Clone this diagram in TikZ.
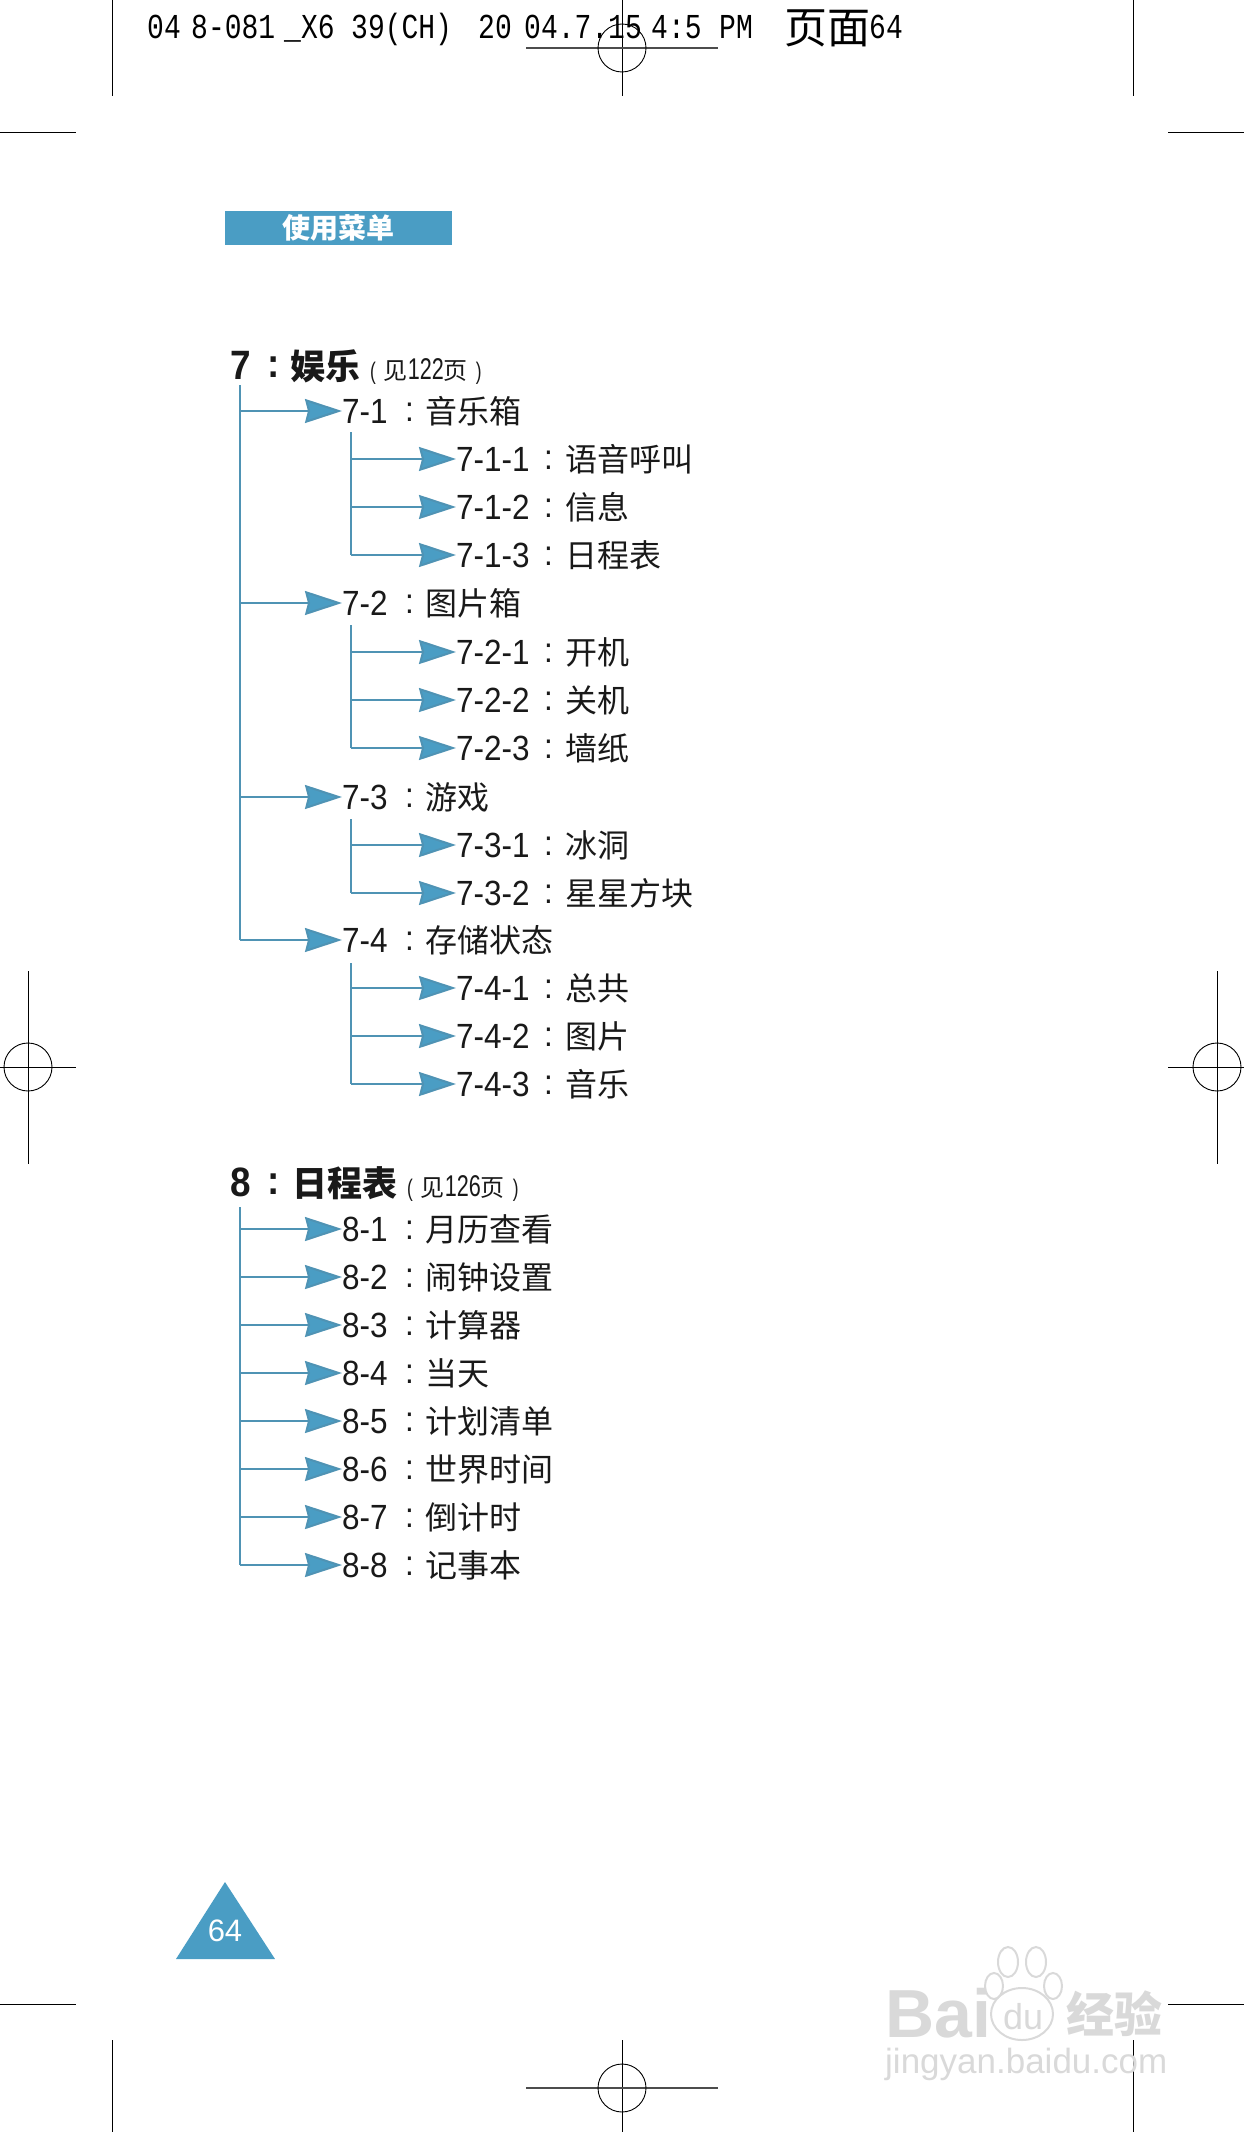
\documentclass[tikz,border=0pt]{standalone}
\usepackage{fontspec}
\usetikzlibrary{arrows.meta}
\setmainfont{Liberation Sans}
\newfontfamily\cjk{Noto Sans CJK SC}
\newfontfamily\numf[FakeStretch=0.9]{Liberation Sans}
\newfontfamily\numb[FakeStretch=0.9]{Liberation Sans Bold}
\newfontfamily\numn[FakeStretch=0.72]{Liberation Sans}
\newfontfamily\hdr[FakeStretch=0.8]{Liberation Mono}
\definecolor{mblue}{HTML}{4A9DC4}
\definecolor{lblue}{HTML}{4F93B4}
\definecolor{wm}{gray}{0.85}
\tikzset{
  x=1pt,y=-1pt,
  crop/.style={black,line width=0.9pt},
  lbl/.style={anchor=west,inner sep=0pt,outer sep=0pt,text height=25pt,text depth=0pt,text=black!90},
  heading/.style={anchor=base west,inner sep=0pt,outer sep=0pt,text=black!90},
  trunk/.style={lblue,line width=2.6pt},
  branch/.style={lblue,line width=2pt,-{Stealth[length=37pt,width=24pt,inset=3pt,fill=mblue]}},
  hdrtext/.style={anchor=base west,inner sep=0pt,font=\hdr\fontsize{35}{35}\selectfont,text=black},
  wmtext/.style={anchor=base west,inner sep=0pt,text=wm},
}
% level two / level one row text
\newcommand{\rowA}[2]{{\numf\fontsize{35}{35}\selectfont\rlap{#1}\hspace{63pt}\rlap{\raisebox{2pt}{:}}\hspace{20pt}\cjk\fontsize{32}{32}\selectfont #2}}
\newcommand{\rowB}[2]{{\numf\fontsize{35}{35}\selectfont\rlap{#1}\hspace{88pt}\rlap{\raisebox{2pt}{:}}\hspace{21pt}\cjk\fontsize{32}{32}\selectfont #2}}
\newcommand{\headA}[5]{{\numb\fontsize{41}{41}\selectfont\rlap{#1}\hspace{#3}\rlap{\raisebox{2pt}{:}}\hspace{#4}{\cjk\bfseries\fontsize{35}{35}\selectfont #2}\hspace{10pt}{\fontsize{24}{24}\selectfont\numn (\hspace{8pt}{\cjk 见}{\fontsize{30}{30}\selectfont #5}{\cjk 页}\hspace{8pt})}}}
\begin{document}
\begin{tikzpicture}
\useasboundingbox (0,0) rectangle (1244,2132);
% crop and registration marks
\draw[crop] (112,0) -- (112,96);
\draw[crop] (622,0) -- (622,96);
\draw[crop] (1133,0) -- (1133,96);
\draw[crop] (0,132) -- (76,132);
\draw[crop] (1168,132) -- (1244,132);
\draw[crop,black!70,line width=1.4pt] (526,48) -- (718,48);
\draw[crop] (622,48) circle[radius=24];
\draw[crop] (0,2004) -- (76,2004);
\draw[crop] (1168,2004) -- (1244,2004);
\draw[crop] (112,2040) -- (112,2132);
\draw[crop] (622,2040) -- (622,2132);
\draw[crop] (1133,2040) -- (1133,2132);
\draw[crop,black!70,line width=1.4pt] (526,2088) -- (718,2088);
\draw[crop] (622,2088) circle[radius=24];
\draw[crop] (28,971) -- (28,1164);
\draw[crop] (0,1067) -- (76,1067);
\draw[crop] (28,1067) circle[radius=24];
\draw[crop] (1217,971) -- (1217,1164);
\draw[crop] (1168,1067) -- (1244,1067);
\draw[crop] (1217,1067) circle[radius=24];
% printer slug
\node[hdrtext] (s1) at (147,39) {04};
\node[hdrtext] (s2) at (191,39) {8-081};
\node[hdrtext] (s3) at (284,39) {\_X6};
\node[hdrtext] (s4) at (351,39) {39(CH)};
\node[hdrtext] (s5) at (478,39) {20};
\node[hdrtext] (s6) at (524,39) {04.7.15};
\node[hdrtext] (s7) at (651,39) {4:5};
\node[hdrtext] (s8) at (719,39) {PM};
\node[anchor=base west,inner sep=0pt] (s9) at (784,44) {\cjk\fontsize{43}{43}\selectfont 页面};
\node[hdrtext] (s10) at (869,39) {64};
% section tab
\node[fill=mblue,minimum width=227pt,minimum height=34pt,inner sep=0pt,text=white] (tab) at (338.5,228) {\cjk\bfseries\fontsize{28}{28}\selectfont 使用菜单};
% section 7
\node[heading] (h7) at (230,379) {\headA{7}{娱乐}{37pt}{23pt}{122}};
\coordinate (t7) at (240,385);
\node[lbl] (n71) at (342,411) {\rowA{7-1}{音乐箱}};
\node[lbl] (n711) at (456,459) {\rowB{7-1-1}{语音呼叫}};
\node[lbl] (n712) at (456,507) {\rowB{7-1-2}{信息}};
\node[lbl] (n713) at (456,555) {\rowB{7-1-3}{日程表}};
\node[lbl] (n72) at (342,603) {\rowA{7-2}{图片箱}};
\node[lbl] (n721) at (456,652) {\rowB{7-2-1}{开机}};
\node[lbl] (n722) at (456,700) {\rowB{7-2-2}{关机}};
\node[lbl] (n723) at (456,748) {\rowB{7-2-3}{墙纸}};
\node[lbl] (n73) at (342,797) {\rowA{7-3}{游戏}};
\node[lbl] (n731) at (456,845) {\rowB{7-3-1}{冰洞}};
\node[lbl] (n732) at (456,893) {\rowB{7-3-2}{星星方块}};
\node[lbl] (n74) at (342,940) {\rowA{7-4}{存储状态}};
\node[lbl] (n741) at (456,988) {\rowB{7-4-1}{总共}};
\node[lbl] (n742) at (456,1036) {\rowB{7-4-2}{图片}};
\node[lbl] (n743) at (456,1084) {\rowB{7-4-3}{音乐}};
\coordinate (t71) at (351,432);
\coordinate (t72) at (351,625);
\coordinate (t73) at (351,819);
\coordinate (t74) at (351,963);
\draw[trunk] (t7) -- (t7 |- n74);
\draw[trunk] (t71) -- (t71 |- n713);
\draw[trunk] (t72) -- (t72 |- n723);
\draw[trunk] (t73) -- (t73 |- n732);
\draw[trunk] (t74) -- (t74 |- n743);
\foreach \c in {n71,n72,n73,n74} \draw[branch] (t7 |- \c.west) -- (\c.west);
\foreach \c in {n711,n712,n713} \draw[branch] (t71 |- \c.west) -- (\c.west);
\foreach \c in {n721,n722,n723} \draw[branch] (t72 |- \c.west) -- (\c.west);
\foreach \c in {n731,n732} \draw[branch] (t73 |- \c.west) -- (\c.west);
\foreach \c in {n741,n742,n743} \draw[branch] (t74 |- \c.west) -- (\c.west);
% section 8
\node[heading] (h8) at (230,1196) {\headA{8}{日程表}{37pt}{25pt}{126}};
\coordinate (t8) at (240,1207);
\node[lbl] (n81) at (342,1229) {\rowA{8-1}{月历查看}};
\node[lbl] (n82) at (342,1277) {\rowA{8-2}{闹钟设置}};
\node[lbl] (n83) at (342,1325) {\rowA{8-3}{计算器}};
\node[lbl] (n84) at (342,1373) {\rowA{8-4}{当天}};
\node[lbl] (n85) at (342,1421) {\rowA{8-5}{计划清单}};
\node[lbl] (n86) at (342,1469) {\rowA{8-6}{世界时间}};
\node[lbl] (n87) at (342,1517) {\rowA{8-7}{倒计时}};
\node[lbl] (n88) at (342,1565) {\rowA{8-8}{记事本}};
\draw[trunk] (t8) -- (t8 |- n88);
\foreach \c in {n81,n82,n83,n84,n85,n86,n87,n88} \draw[branch] (t8 |- \c.west) -- (\c.west);
% page number
\fill[mblue] (225,1882) -- (275,1959) -- (176,1959) -- cycle;
\node[inner sep=0pt,text=white,font=\fontsize{31}{31}\selectfont] (pg) at (225,1931) {64};
% watermark
\node[wmtext,font=\bfseries\fontsize{68}{68}\selectfont] (wm1) at (885,2037) {Bai};
\draw[wm,line width=2pt] (1008,1962) ellipse[x radius=10,y radius=15];
\draw[wm,line width=2pt] (1036,1962) ellipse[x radius=10,y radius=15];
\draw[wm,line width=2pt] (994,1986) ellipse[x radius=9,y radius=13];
\draw[wm,line width=2pt] (1053,1986) ellipse[x radius=9,y radius=13];
\draw[wm,line width=2pt] (1022,2014) ellipse[x radius=31,y radius=26];
\node[wmtext,font=\fontsize{36}{36}\selectfont] (wm2) at (1003,2029) {du};
\node[wmtext] (wm3) at (1066,2032) {\cjk\bfseries\fontsize{48}{48}\selectfont 经验};
\node[wmtext,font=\fontsize{35}{35}\selectfont] (wm4) at (885,2073) {jingyan.baidu.com};
\end{tikzpicture}
\end{document}
